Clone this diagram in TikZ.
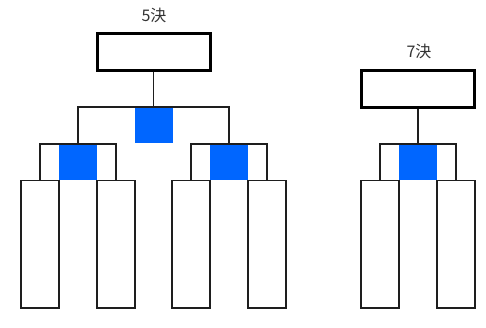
\documentclass[tikz,border=0pt]{standalone}
\usepackage{fontspec}
\newfontfamily\cjk{Noto Sans CJK JP}
\usetikzlibrary{positioning}

\definecolor{winblue}{RGB}{0,102,255}
\definecolor{labelgray}{RGB}{51,51,51}
\definecolor{linegray}{RGB}{30,30,30}

\tikzset{
  title/.style={font=\cjk\fontsize{16}{19}\selectfont, text=labelgray, inner sep=0pt},
  finalbox/.style={draw, line width=3pt, minimum width=113pt, minimum height=37pt, inner sep=0pt},
  slot/.style={draw=linegray, line width=1.5pt, minimum width=38pt, minimum height=127pt, inner sep=0pt, anchor=north},
  winner/.style={fill=winblue, minimum width=38pt, minimum height=36pt, inner sep=0pt, anchor=north},
  link/.style={draw=linegray, line width=1.5pt}
}

\begin{document}
\begin{tikzpicture}[x=1pt,y=-1pt]

\useasboundingbox (0,0) rectangle (486,328);

% 5th place
\node[title] (lab5) at (154,15) {5決};
\node[finalbox] (box5) at (153.5,52.5) {};
\node[winner] (win5) at (153.5,107) {};

\node[winner] (semA) at (78,144) {};
\node[winner] (semB) at (229,144) {};

\node[slot] (A1) at (40,180) {};
\node[slot] (A2) at (116,180) {};
\node[slot] (B1) at (191,180) {};
\node[slot] (B2) at (267,180) {};

\draw[link] (box5.south) -- (win5.north);
\draw[link] (semA.north) |- (win5.north) -| (semB.north);
\draw[link] (A1.north) |- (semA.north) -| (A2.north);
\draw[link] (B1.north) |- (semB.north) -| (B2.north);

% 7th place
\node[title] (lab7) at (419,51) {7決};
\node[finalbox] (box7) at (418,89) {};
\node[winner] (win7) at (418,144) {};

\node[slot] (C1) at (380,180) {};
\node[slot] (C2) at (456,180) {};

\draw[link] (box7.south) -- (win7.north);
\draw[link] (C1.north) |- (win7.north) -| (C2.north);

\end{tikzpicture}
\end{document}
